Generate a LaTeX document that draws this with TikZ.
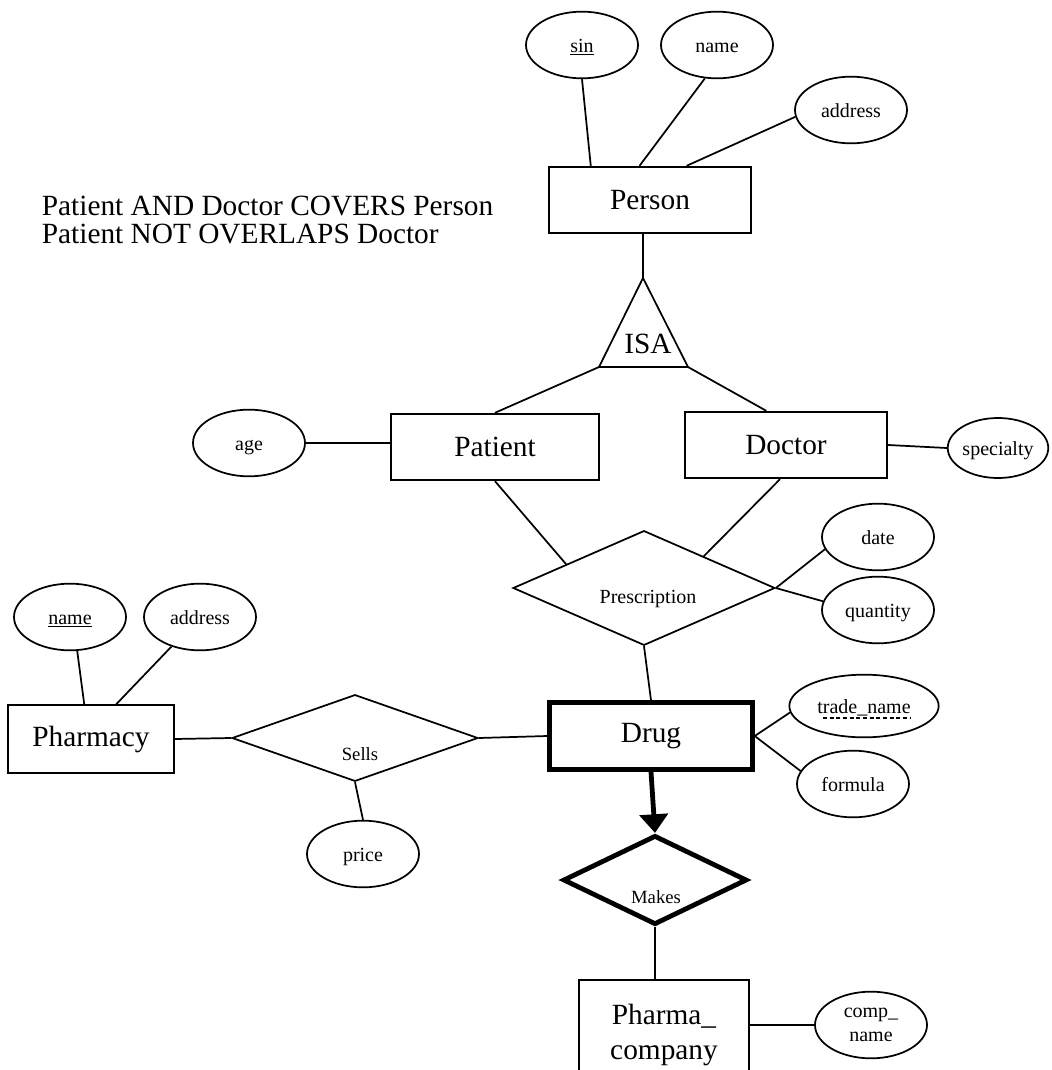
\documentclass[tikz,border=0pt]{standalone}
\usepackage{fontspec}
\setmainfont{Liberation Serif}
\usetikzlibrary{shapes.geometric,arrows.meta}

\begin{document}
\begin{tikzpicture}[x=0.75pt, y=-0.75pt, line width=1.3pt,
    entity/.style={draw, rectangle, minimum width=152pt, minimum height=50pt, inner sep=0pt, font=\fontsize{22}{24}\selectfont},
    weak/.style={line width=3.6pt},
    oval/.style={draw, ellipse, minimum width=84pt, minimum height=50pt, inner sep=0pt, font=\fontsize{15}{17}\selectfont},
    attr/.style={oval, text height=2.4ex, text depth=0pt},
    rel/.style={draw, diamond, inner sep=0pt},
    lbl/.style={anchor=base, inner sep=0pt, font=\fontsize{15}{17}\selectfont},
    note/.style={anchor=base west, inner sep=0pt, font=\fontsize{22}{24}\selectfont}]
		\useasboundingbox (0,0) rectangle (1052,1070);
		% constraint text
		\node[note] (cov1) at (41,215) {Patient AND Doctor COVERS Person};
		\node[note] (cov2) at (41,243) {Patient NOT OVERLAPS Doctor};
		% Person and its attributes
		\node[entity] (person) at (650,200) {Person};
		\node[attr] (sin) at (582,45) {\underline{sin}};
		\node[attr] (pername) at (717,45) {name};
		\node[attr] (peraddr) at (851,110) {address};
		\draw (sin.south) -- (person.150);
		\draw (pername.250) -- (person.107);
		\draw (peraddr.187) -- (person.43);
		% ISA triangle
		\coordinate (isatop) at (643,278);
		\coordinate (isal) at (599,367);
		\coordinate (isar) at (688,367);
		\draw (isatop) -- (isal) -- (isar) -- cycle;
		\node[anchor=base, inner sep=0pt, font=\fontsize{22}{24}\selectfont] (isa) at (648,353) {ISA};
		\draw (isatop |- person.south) -- (isatop);
		% Patient and Doctor
		\node[entity, minimum width=156pt] (patient) at (495,447) {Patient};
		\node[entity] (doctor) at (786,445) {Doctor};
		\node[attr] (age) at (249,443) {age};
		\node[attr, minimum width=75pt, minimum height=45pt] (spec) at (998,448) {specialty};
		\draw (isal) -- (patient.north);
		\draw (isar) -- (doctor.120);
		\draw (age.east) -- (age.east -| patient.west);
		\draw (doctor.east) -- (spec.west);
		% Prescription
		\node[rel, minimum width=196.5pt, minimum height=86pt] (presc) at (644,588) {};
		\node[lbl] (presctxt) at (648,603) {Prescription};
		\node[attr] (date) at (878,537) {date};
		\node[attr] (qty) at (878,610) {quantity};
		\draw (patient.south) -- (presc.163);
		\draw (doctor.260) -- (presc.28);
		\draw (presc.east) -- (date.193);
		\draw (presc.east) -- (qty.171);
		% Drug
		\node[entity, weak] (drug) at (651,736) {Drug};
		\node[attr, minimum width=112pt, minimum height=47pt] (trade) at (864,706) {trade\_name};
		\draw[line width=0.9pt, dash pattern=on 3pt off 2pt] (trade.center) ++(-41,12) -- ++(87,0);
		\node[attr] (formula) at (853,784) {formula};
		\draw (presc.south) -- (drug.north);
		\draw (drug.east) -- (trade.185);
		\draw (drug.east) -- (formula.166);
		% Pharmacy and Sells
		\node[entity, minimum width=124pt, minimum height=51pt] (pharmacy) at (91,739) {Pharmacy};
		\node[attr] (phname) at (70,617) {\underline{name}};
		\node[attr] (phaddr) at (200,617) {address};
		\draw (phname.282) -- (pharmacy.101);
		\draw (phaddr.226) -- (pharmacy.54);
		\node[rel, minimum width=184.5pt, minimum height=65pt] (sells) at (355,738) {};
		\node[lbl, font=\fontsize{14}{16}\selectfont] (sellstxt) at (360,760) {Sells};
		\node[attr] (price) at (363,854) {price};
		\draw (pharmacy.east) -- (sells.west);
		\draw (sells.east) -- (drug.west);
		\draw (sells.south) -- (price.north);
		% Makes and Pharma_company
		\node[rel, weak, minimum width=138pt, minimum height=67pt] (makes) at (655,880) {};
		\node[lbl, font=\fontsize{14}{16}\selectfont] (makestxt) at (656,903) {Makes};
		\draw[weak, -{Triangle[width=21pt,length=14pt]}] (drug.south) -- (makes.north);
		\node[entity, minimum width=127.5pt, minimum height=82.5pt, align=center, font=\fontsize{22}{26}\selectfont] (pharma) at (664,1035) {Pharma\_\\company};
		\node[oval, align=center, font=\fontsize{15}{18}\selectfont] (compname) at (871,1025) {comp\_\\name};
		\draw (makes.south) -- (makes.south |- pharma.north);
		\draw (compname.west -| pharma.east) -- (compname.west);
\end{tikzpicture}
\end{document}
